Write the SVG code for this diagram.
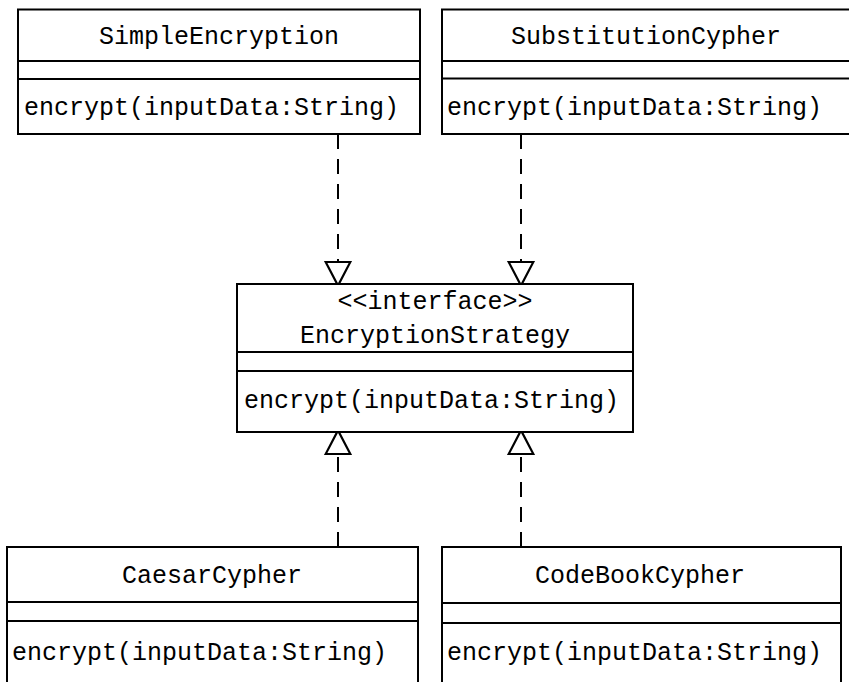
<svg xmlns="http://www.w3.org/2000/svg" width="849" height="682" viewBox="0 0 849 682">
<style>
.box{fill:#fff;stroke:#000;stroke-width:2}
.div{stroke:#000;stroke-width:2}
text{font-family:"Liberation Mono","DejaVu Sans Mono",monospace;font-size:25px;fill:#000}
.c{text-anchor:middle}
.dep{fill:none;stroke:#000;stroke-width:2;stroke-dasharray:15 10}
</style>
<defs>
<marker id="tri" markerUnits="userSpaceOnUse" markerWidth="30" markerHeight="30" refX="0" refY="0" viewBox="-2 -14 28 28" orient="auto" overflow="visible">
<polygon points="0,-11.5 22,0 0,11.5" fill="#fff" stroke="#000" stroke-width="2" stroke-linejoin="miter"/>
</marker>
</defs>
<g id="connectors">
<path class="dep" d="M338,134 V262" marker-end="url(#tri)"/>
<path class="dep" d="M521,134 V262" marker-end="url(#tri)"/>
<path class="dep" d="M338,547 V454" marker-end="url(#tri)"/>
<path class="dep" d="M521,547 V454" marker-end="url(#tri)"/>
</g>
<g id="SimpleEncryption">
<rect class="box" x="18" y="9.5" width="402" height="124.5"/>
<line class="div" x1="18" y1="61" x2="420" y2="61"/>
<line class="div" x1="18" y1="79" x2="420" y2="79"/>
<text class="c" x="219" y="44">SimpleEncryption</text>
<text x="24" y="115">encrypt(inputData:String)</text>
</g>
<g id="SubstitutionCypher">
<rect class="box" x="442" y="9.5" width="408" height="124.5"/>
<line class="div" x1="442" y1="61" x2="850" y2="61"/>
<line class="div" x1="442" y1="78.5" x2="850" y2="78.5"/>
<text class="c" x="646" y="44">SubstitutionCypher</text>
<text x="447" y="115">encrypt(inputData:String)</text>
</g>
<g id="EncryptionStrategy">
<rect class="box" x="237" y="284" width="396" height="148"/>
<line class="div" x1="237" y1="352" x2="633" y2="352"/>
<line class="div" x1="237" y1="371" x2="633" y2="371"/>
<text class="c" x="435" y="309">&lt;&lt;interface&gt;&gt;</text>
<text class="c" x="435" y="343">EncryptionStrategy</text>
<text x="244" y="408">encrypt(inputData:String)</text>
</g>
<g id="CaesarCypher">
<rect class="box" x="7" y="547" width="411" height="160"/>
<line class="div" x1="7" y1="602" x2="418" y2="602"/>
<line class="div" x1="7" y1="621" x2="418" y2="621"/>
<text class="c" x="212" y="583">CaesarCypher</text>
<text x="12" y="660">encrypt(inputData:String)</text>
</g>
<g id="CodeBookCypher">
<rect class="box" x="442" y="547" width="399" height="160"/>
<line class="div" x1="442" y1="603" x2="841" y2="603"/>
<line class="div" x1="442" y1="623" x2="841" y2="623"/>
<text class="c" x="640" y="583">CodeBookCypher</text>
<text x="447" y="660">encrypt(inputData:String)</text>
</g>
</svg>
